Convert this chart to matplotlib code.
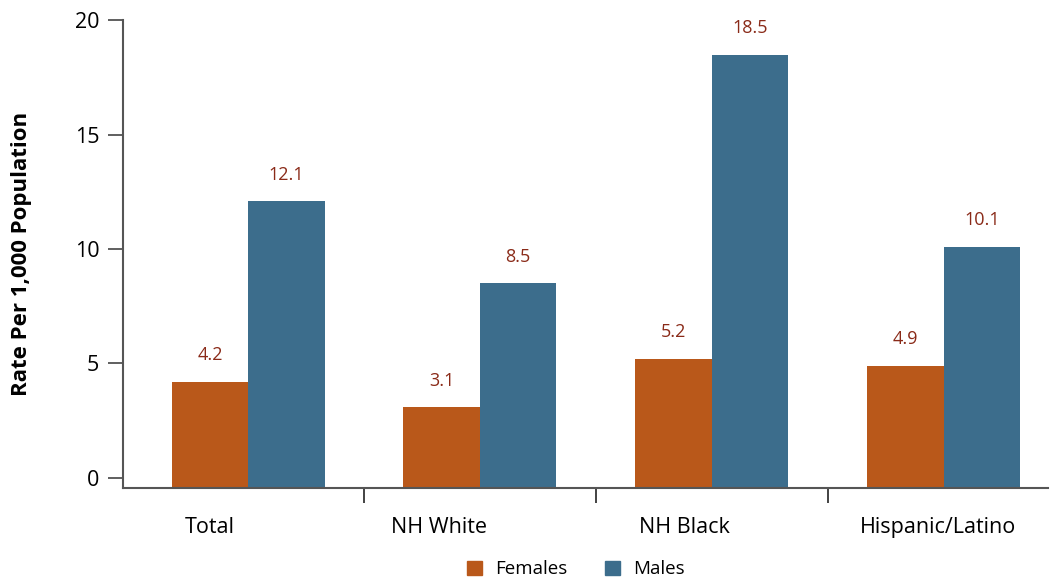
import numpy as np
import matplotlib.pyplot as plt
import matplotlib.transforms as mtransforms
from matplotlib.patches import Patch

# Data
groups = ['Total', 'NH White', 'NH Black', 'Hispanic/Latino']
females = [4.2, 3.1, 5.2, 4.9]
males = [12.1, 8.5, 18.5, 10.1]

c_fem = '#B9581A'
c_male = '#3C6D8C'
c_lab = '#8A2A18'

plt.rcParams['font.family'] = ['Open Sans', 'DejaVu Sans']

fig = plt.figure(figsize=(10.51, 5.77), dpi=100)
ax = fig.add_axes([0.117, 0.154, 0.880, 0.811])

x = np.arange(len(groups))
w = 0.33
y0 = -0.45  # bars start at the bottom spine

b1 = ax.bar(x - w / 2, np.array(females) - y0, w, bottom=y0, color=c_fem)
b2 = ax.bar(x + w / 2, np.array(males) - y0, w, bottom=y0, color=c_male)

for bars, vals in [(b1, females), (b2, males)]:
    for b, v in zip(bars, vals):
        ax.annotate(f'{v}', (b.get_x() + b.get_width() / 2, v),
                    xytext=(0, 19), textcoords='offset points',
                    ha='center', va='center', fontsize=13, color=c_lab)

ax.set_xlim(-0.54, 3.45)
ax.set_ylim(y0, 20)

# y axis
ax.set_yticks([0, 5, 10, 15, 20])
ax.tick_params(axis='y', length=11, width=1.2, color='#444444',
               labelsize=15.5, pad=6)
ax.set_ylabel('Rate Per 1,000 Population', fontsize=16, fontweight='bold')
ax.yaxis.set_label_coords(-0.098, 0.5)

# x axis: separators as major ticks, group names on minor ticks
ax.set_xticks([0.5, 1.5, 2.5])
ax.set_xticklabels([])
ax.tick_params(axis='x', which='major', direction='out', length=11,
               width=1.2, color='#222222')
ax.set_xticks(x, minor=True)
ax.set_xticklabels(groups, minor=True)
ax.tick_params(axis='x', which='minor', length=0, labelsize=15.5, pad=21)

# group names in the original sit a little left of the bar pairs
shifts = [-38, -41, -27, -6]
for lab, dx in zip(ax.get_xticklabels(minor=True), shifts):
    lab.set_transform(lab.get_transform() +
                      mtransforms.ScaledTranslation(dx / 100, 0, fig.dpi_scale_trans))

for s in ['top', 'right']:
    ax.spines[s].set_visible(False)
for s in ['left', 'bottom']:
    ax.spines[s].set_color('#555555')
    ax.spines[s].set_linewidth(1.5)

handles = [Patch(color=c_fem, label='Females'), Patch(color=c_male, label='Males')]
fig.legend(handles=handles, loc='center', bbox_to_anchor=(0.548, 0.013),
           ncol=2, frameon=False, fontsize=13.5, handlelength=0.8,
           handleheight=0.8, columnspacing=2.0, handletextpad=0.7)

fig.savefig('out.png', dpi=100)
